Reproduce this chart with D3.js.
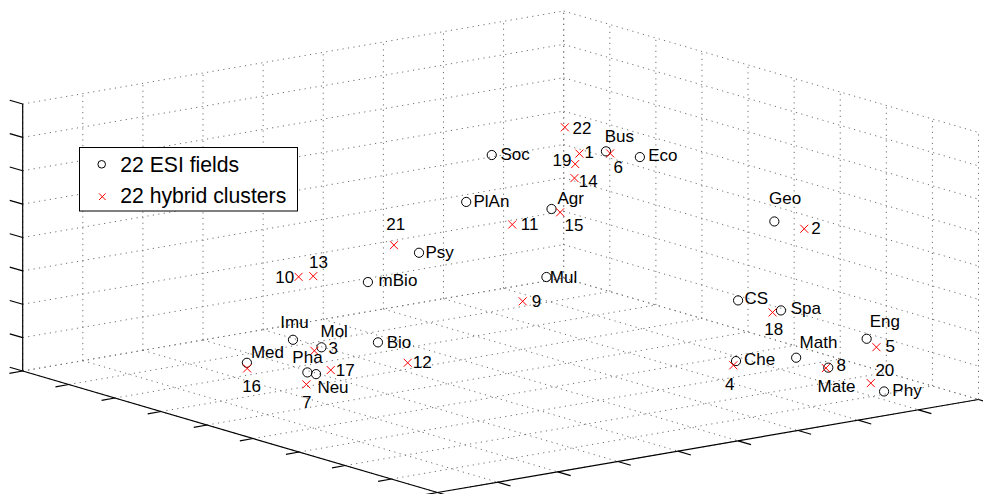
<!DOCTYPE html>
<html>
<head>
<meta charset="utf-8">
<script src="https://cdn.jsdelivr.net/npm/d3@7"></script>
<style>
  body { margin: 0; background: #fff; }
  text { font-family: "Liberation Sans", Arial, Helvetica, sans-serif; fill: #000; }
</style>
</head>
<body>
<div id="chart"></div>
<script>
// 22 ESI fields (3D coordinates)
const esiNames = ["Soc", "Bus", "Eco", "Agr", "Geo", "PlAn", "Psy", "mBio", "Mul", "Imu", "Mol",
                  "Bio", "Med", "Pha", "Neu", "CS", "Spa", "Eng", "Math", "Che", "Mate", "Phy"];
const esiX = [3.03, 3.93, 4.47, 4.47, 6.84, 4.08, 4.36, 3.76, 4.49, 3.36, 3.94,
              4.63, 3.13, 4.22, 4.37, 6.34, 6.84, 7.76, 7.30, 7.13, 7.71, 8.49];
const esiY = [5.48, 6.69, 6.84, 5.37, 7.26, 4.25, 3.25, 2.86, 5.27, 1.92, 1.95,
              2.36, 1.33, 1.50, 1.53, 7.04, 7.37, 8.09, 7.27, 6.40, 7.49, 7.82];
const esiZ = [6.0, 6.1, 6.1, 5.0, 5.0, 5.4, 4.3, 3.3, 3.0, 1.7, 1.7,
              2.0, 1.1, 1.2, 1.2, 2.5, 2.3, 1.6, 1.1, 1.2, 0.9, 0.4];

// 22 hybrid clusters
const clusterIds = ["1", "2", "3", "4", "5", "6", "7", "8", "9", "10", "11",
                    "12", "13", "14", "15", "16", "17", "18", "19", "20", "21", "22"];
const clusterX = [3.51, 7.11, 3.89, 7.15, 7.92, 4.06, 4.46, 7.71, 4.81, 2.96, 4.57,
                  5.51, 3.20, 3.99, 4.54, 3.24, 4.61, 6.71, 3.81, 8.15, 3.96, 2.79];
const clusterY = [6.57, 7.55, 1.87, 6.34, 8.13, 6.66, 1.30, 7.45, 4.63, 2.32, 4.64,
                  2.18, 2.38, 6.12, 5.46, 1.25, 1.59, 7.33, 6.27, 7.86, 3.14, 6.88];
const clusterZ = [5.9, 4.8, 1.6, 1.1, 1.4, 6.1, 1.0, 0.9, 2.6, 3.3, 4.8,
                  1.8, 3.4, 5.5, 4.9, 1.0, 1.4, 2.2, 5.8, 0.5, 4.4, 6.3];

// tick values (no tick labels are shown)
const xTicks = [0, 1, 2, 3, 4, 5, 6, 7, 8, 9];
const yTicks = [0, 1, 2, 3, 4, 5, 6, 7, 8, 9];
const zTicks = [0, 1, 2, 3, 4, 5, 6, 7, 8];

const legendLabels = ["22 ESI fields", "22 hybrid clusters"];

// label placement relative to the marker (layout only)
const esiLabelOffset = [[8.7, 4.6], [-1.3, -9.3], [8.3, 4.3], [6, -5], [-5.3, -17], [7.3, 5],
  [6.4, 5.6], [10.7, 4], [3.4, 6], [-12.6, -12], [-1, -10.6], [8.7, 5.4], [4, -4.4],
  [-15, -9], [1.3, 18.7], [6.3, 3.3], [9.7, 4], [3, -11.6], [3.4, -10], [8, 4.3],
  [-10.7, 24.4], [8.3, 5]];
const clusterLabelOffset = [[5, 4], [7, 5.7], [14, 3.6], [-8.3, 24.3], [9, 5], [3.3, 19.3],
  [-4.4, 24], [10.6, 3], [9, 5.7], [-23.3, 6], [8.5, 5.7], [5, 5], [-4.3, -8.3],
  [4.3, 9], [4.3, 18.7], [-5, 23.4], [5, 6], [-8.3, 23], [-22.7, 2], [4.6, -6.7],
  [-7.7, -15], [7.6, 6.3]];

const width = 983;
const height = 494;

// projected box: screen position of (0,0,0) and the screen vectors of each full axis
const origin = [22.7, 371];
const xEdge = [414.8, 121.5];
const yEdge = [541, -93];
const zEdge = [0, -267];

const xScale = d3.scaleLinear().domain([0, 9]).range([0, 1]);
const yScale = d3.scaleLinear().domain([0, 9]).range([0, 1]);
const zScale = d3.scaleLinear().domain([0, 8]).range([0, 1]);

function project(x, y, z) {
    const u = xScale(x), v = yScale(y), w = zScale(z);
    return [origin[0] + u * xEdge[0] + v * yEdge[0] + w * zEdge[0],
            origin[1] + u * xEdge[1] + v * yEdge[1] + w * zEdge[1]];
}

function unit(v) {
    const n = Math.hypot(v[0], v[1]);
    return [v[0] / n, v[1] / n];
}

const svg = d3.select("#chart").append("svg")
    .attr("width", width)
    .attr("height", height);

const [x0, x1] = xScale.domain();
const [y0, y1] = yScale.domain();
const [z0, z1] = zScale.domain();

// grid segments: floor, left wall (x = min), back wall (y = max)
const grid = [];
xTicks.forEach(t => grid.push([project(t, y0, z0), project(t, y1, z0)]));
yTicks.forEach(t => grid.push([project(x0, t, z0), project(x1, t, z0)]));
yTicks.forEach(t => grid.push([project(x0, t, z0), project(x0, t, z1)]));
zTicks.forEach(t => grid.push([project(x0, y0, t), project(x0, y1, t)]));
xTicks.forEach(t => grid.push([project(t, y1, z0), project(t, y1, z1)]));
zTicks.forEach(t => grid.push([project(x0, y1, t), project(x1, y1, t)]));

svg.append("g")
    .selectAll("line")
    .data(grid)
    .enter()
    .append("line")
    .attr("x1", d => d[0][0]).attr("y1", d => d[0][1])
    .attr("x2", d => d[1][0]).attr("y2", d => d[1][1])
    .attr("stroke", "#707070")
    .attr("stroke-width", 1)
    .attr("stroke-dasharray", "1.2,4.3");

// axis lines
const axes = [
    [project(x0, y0, z0), project(x1, y0, z0)],
    [project(x1, y0, z0), project(x1, y1, z0)],
    [project(x0, y0, z0), project(x0, y0, z1)]
];

// ticks
const tickLen = 13.5;
const ux = unit(xEdge), uy = unit(yEdge);
const ticks = [];
xTicks.forEach(t => {
    const p = project(t, y0, z0);
    ticks.push([p, [p[0] - tickLen * uy[0], p[1] - tickLen * uy[1]]]);
});
yTicks.forEach(t => {
    const p = project(x1, t, z0);
    ticks.push([p, [p[0] + tickLen * ux[0], p[1] + tickLen * ux[1]]]);
});
zTicks.forEach(t => {
    const p = project(x0, y0, t);
    ticks.push([p, [p[0] - tickLen * ux[0], p[1] - tickLen * ux[1]]]);
});

svg.append("g")
    .selectAll("line")
    .data(axes.concat(ticks))
    .enter()
    .append("line")
    .attr("x1", d => d[0][0]).attr("y1", d => d[0][1])
    .attr("x2", d => d[1][0]).attr("y2", d => d[1][1])
    .attr("stroke", "#000")
    .attr("stroke-width", 1.2);

// ESI fields: black circles
const esi = esiNames.map((n, i) => ({ name: n, p: project(esiX[i], esiY[i], esiZ[i]), off: esiLabelOffset[i] }));
const clusters = clusterIds.map((n, i) => ({ name: n, p: project(clusterX[i], clusterY[i], clusterZ[i]), off: clusterLabelOffset[i] }));

svg.append("g")
    .selectAll("circle")
    .data(esi)
    .enter()
    .append("circle")
    .attr("cx", d => d.p[0])
    .attr("cy", d => d.p[1])
    .attr("r", 4.6)
    .attr("fill", "none")
    .attr("stroke", "#000")
    .attr("stroke-width", 1);

// hybrid clusters: red crosses
const cross = s => `M${-s},${-s}L${s},${s}M${-s},${s}L${s},${-s}`;
svg.append("g")
    .selectAll("path")
    .data(clusters)
    .enter()
    .append("path")
    .attr("transform", d => `translate(${d.p[0]},${d.p[1]})`)
    .attr("d", cross(4))
    .attr("fill", "none")
    .attr("stroke", "#ff0000")
    .attr("stroke-width", 1);

// labels
svg.append("g")
    .selectAll("text")
    .data(esi.concat(clusters))
    .enter()
    .append("text")
    .attr("x", d => d.p[0] + d.off[0])
    .attr("y", d => d.p[1] + d.off[1])
    .style("font-size", "17px")
    .text(d => d.name);

// legend
const legend = svg.append("g").attr("transform", "translate(79.5, 147.5)");
legend.append("rect")
    .attr("width", 218)
    .attr("height", 63.5)
    .attr("fill", "#fff")
    .attr("stroke", "#000")
    .attr("stroke-width", 1);
legend.append("circle")
    .attr("cx", 22.2).attr("cy", 16.8).attr("r", 3.8)
    .attr("fill", "none").attr("stroke", "#000").attr("stroke-width", 1);
legend.append("path")
    .attr("transform", "translate(22.8, 49.2)")
    .attr("d", cross(3.3))
    .attr("fill", "none").attr("stroke", "#ff0000").attr("stroke-width", 1);
legend.selectAll("text.leg")
    .data(legendLabels)
    .enter()
    .append("text")
    .attr("class", "leg")
    .attr("x", 40.7)
    .attr("y", (d, i) => 24.2 + i * 31.6)
    .style("font-size", "21.2px")
    .text(d => d);
</script>
</body>
</html>
